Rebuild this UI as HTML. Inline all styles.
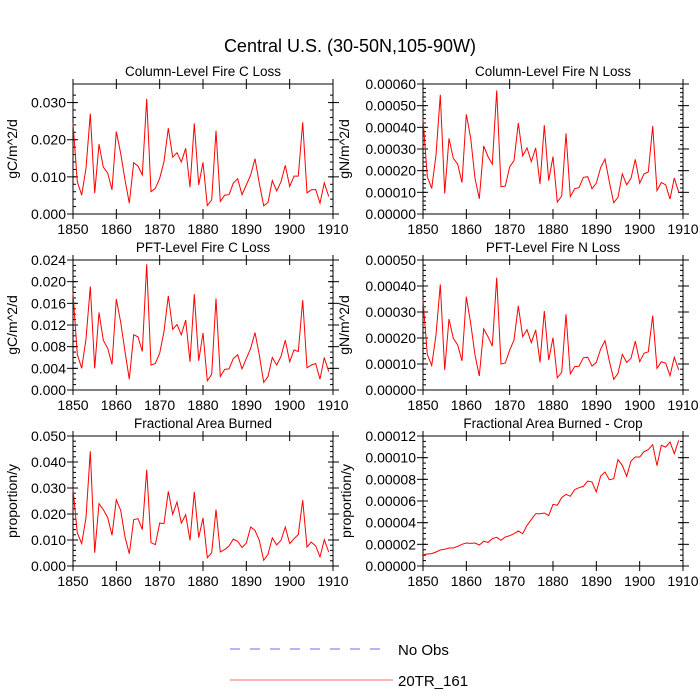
<!DOCTYPE html>
<html><head><meta charset="utf-8"><style>
body{margin:0;background:#fff}
svg{display:block;font-family:"Liberation Sans",sans-serif}
</style></head><body>
<svg id="fig" width="700" height="700" viewBox="0 0 700 700">
<text x="350" y="52" font-size="18" text-anchor="middle">Central U.S. (30-50N,105-90W)</text>
<g id="panels"></g>
<g>
<line x1="230" y1="649" x2="386" y2="649" stroke="#6b6bff" stroke-dasharray="10,10" stroke-width="1"/>
<text x="398" y="655" font-size="15">No Obs</text>
<line x1="230" y1="680" x2="393" y2="680" stroke="#ff6b6b" stroke-width="1"/>
<text x="398" y="686" font-size="15">20TR_161</text>
</g>
</svg>
<script>
const years = Array.from({length:60},(_, i)=>1850+i);
const xTicks = [1850,1860,1870,1880,1890,1900,1910];
const colC = [0.0244,0.0087,0.0051,0.0123,0.027,0.0056,0.0188,0.0126,0.011,0.0065,0.0222,0.0163,0.0092,0.0029,0.0138,0.0129,0.0105,0.031,0.006,0.0069,0.0096,0.0141,0.0231,0.0153,0.0165,0.014,0.0177,0.0072,0.0244,0.0078,0.0139,0.0023,0.0038,0.0224,0.0034,0.0051,0.0052,0.0083,0.0095,0.0052,0.0078,0.0105,0.0149,0.0083,0.0022,0.0031,0.009,0.0062,0.0087,0.0131,0.0074,0.0102,0.0102,0.0247,0.0057,0.0065,0.0066,0.0029,0.0084,0.0047];
const colN = [0.00044,0.000172,0.000118,0.000272,0.00055,0.000095,0.000349,0.000257,0.00023,0.000145,0.00046,0.00035,0.000165,0.00007,0.000314,0.000265,0.00023,0.00057,0.000126,0.000129,0.000218,0.000246,0.00042,0.000268,0.000305,0.000242,0.000305,0.000138,0.00041,0.000154,0.000265,0.000055,0.000083,0.000372,0.00008,0.000117,0.000122,0.000169,0.000172,0.000117,0.000142,0.000215,0.000254,0.000149,0.000052,0.000077,0.000185,0.000135,0.000165,0.000252,0.000142,0.000185,0.000194,0.000406,0.000108,0.000145,0.000135,0.000069,0.000166,0.0001];
const pftC = [0.018,0.0066,0.004,0.0094,0.0191,0.004,0.0143,0.0092,0.0077,0.0047,0.0168,0.0125,0.0071,0.002,0.0102,0.0098,0.0071,0.0232,0.0046,0.0049,0.0068,0.0108,0.0174,0.0112,0.0121,0.0102,0.0129,0.0052,0.0177,0.0054,0.0105,0.0017,0.0029,0.0169,0.0025,0.0038,0.0039,0.0058,0.0065,0.0039,0.0058,0.0077,0.0106,0.0065,0.0014,0.0025,0.006,0.0046,0.0062,0.0092,0.0052,0.0074,0.0071,0.0166,0.0041,0.0046,0.0049,0.002,0.006,0.0034];
const pftN = [0.000346,0.000137,0.000094,0.000212,0.000406,0.000077,0.000273,0.000199,0.000173,0.000112,0.000359,0.000256,0.000135,0.000054,0.000235,0.000205,0.000169,0.000432,0.0001,0.000104,0.000154,0.000192,0.000324,0.000205,0.000232,0.000182,0.000231,0.000106,0.000304,0.000115,0.000201,0.000047,0.000068,0.000291,0.000062,0.00009,0.000091,0.000124,0.000126,0.000092,0.000106,0.000158,0.00019,0.000112,0.000041,0.000064,0.000137,0.000106,0.000122,0.000188,0.000109,0.000141,0.000147,0.000286,0.000083,0.000109,0.000103,0.000055,0.000126,0.000077];
const fab = [0.0297,0.0127,0.0086,0.0186,0.0441,0.0051,0.024,0.0217,0.0186,0.0118,0.0255,0.0214,0.0112,0.0047,0.0178,0.0182,0.014,0.037,0.009,0.0082,0.0165,0.0163,0.0287,0.0199,0.0246,0.0165,0.0197,0.0099,0.0285,0.0109,0.0185,0.0032,0.0051,0.0217,0.0054,0.0063,0.0077,0.0103,0.0095,0.0071,0.0088,0.015,0.0137,0.0099,0.0022,0.0045,0.0108,0.0081,0.0099,0.015,0.0086,0.0105,0.0121,0.0253,0.0073,0.0092,0.0077,0.0035,0.0101,0.0054];
const fabCrop = [1.05e-5,1.11e-5,1.14e-5,1.29e-5,1.48e-5,1.54e-5,1.66e-5,1.66e-5,1.82e-5,2.0e-5,2.12e-5,2.09e-5,2.12e-5,1.94e-5,2.28e-5,2.18e-5,2.52e-5,2.65e-5,2.37e-5,2.68e-5,2.8e-5,2.98e-5,3.23e-5,2.98e-5,3.75e-5,4.28e-5,4.83e-5,4.83e-5,4.89e-5,4.65e-5,5.69e-5,5.6e-5,6.31e-5,6.62e-5,6.43e-5,7.05e-5,7.23e-5,7.35e-5,7.85e-5,7.75e-5,6.83e-5,8.31e-5,8.68e-5,7.97e-5,8.06e-5,9.82e-5,9.29e-5,8.28e-5,9.69e-5,1.006e-4,1.006e-4,1.055e-4,1.074e-4,1.12e-4,9.26e-5,1.114e-4,1.098e-4,1.145e-4,1.037e-4,1.16e-4];
const ticksC = ["0.000","0.010","0.020","0.030"];
const ticksN = ["0.00000","0.00010","0.00020","0.00030","0.00040","0.00050","0.00060"];
const ticksPC = ["0.000","0.004","0.008","0.012","0.016","0.020","0.024"];
const ticksPN = ["0.00000","0.00010","0.00020","0.00030","0.00040","0.00050"];
const ticksF = ["0.000","0.010","0.020","0.030","0.040","0.050"];
const ticksFC = ["0.00000","0.00002","0.00004","0.00006","0.00008","0.00010","0.00012"];

const NS="http://www.w3.org/2000/svg";
function mk(tag,attrs,parent){const e=document.createElementNS(NS,tag);for(const k in attrs)e.setAttribute(k,attrs[k]);parent.appendChild(e);return e;}
const root=document.getElementById('panels');
const panels=[
 {name:'column-fire-c-loss',title:'Column-Level Fire C Loss',ylab:'gC/m^2/d',data:colC,ticks:ticksC,ymax:0.035,minor:5,x0:73,y0:84,labx:12},
 {name:'column-fire-n-loss',title:'Column-Level Fire N Loss',ylab:'gN/m^2/d',data:colN,ticks:ticksN,ymax:0.0006,minor:5,x0:423,y0:84,labx:344},
 {name:'pft-fire-c-loss',title:'PFT-Level Fire C Loss',ylab:'gC/m^2/d',data:pftC,ticks:ticksPC,ymax:0.024,minor:4,x0:73,y0:260,labx:12},
 {name:'pft-fire-n-loss',title:'PFT-Level Fire N Loss',ylab:'gN/m^2/d',data:pftN,ticks:ticksPN,ymax:0.0005,minor:5,x0:423,y0:260,labx:344},
 {name:'fractional-area-burned',title:'Fractional Area Burned',ylab:'proportion/y',data:fab,ticks:ticksF,ymax:0.05,minor:5,x0:73,y0:436,labx:12},
 {name:'fractional-area-burned-crop',title:'Fractional Area Burned - Crop',ylab:'proportion/y',data:fabCrop,ticks:ticksFC,ymax:0.00012,minor:4,x0:423,y0:436,labx:346}
];
const W=260,H=130;
panels.forEach(p=>{
 const g=mk('g',{},root);
 
 
 const xs=y=>p.x0+(y-1850)/60*W;
 const ys=v=>p.y0+H-v/p.ymax*H;
 const r=mk('rect',{x:p.x0,y:p.y0,width:W,height:H,fill:'none',stroke:'#000','stroke-width':1},g);
 
 
 const t=mk('text',{x:p.x0+W/2,y:p.y0-8,'font-size':13.5,'text-anchor':'middle'},g);
 t.textContent=p.title;
 
 
 xTicks.forEach(yr=>{
  const x=xs(yr);
  mk('line',{x1:x,x2:x,y1:p.y0+H-5,y2:p.y0+H+5,stroke:'#000'},g);
  mk('line',{x1:x,x2:x,y1:p.y0-5,y2:p.y0+5,stroke:'#000'},g);
  const lt=mk('text',{x:x,y:p.y0+H+20,'font-size':14,'text-anchor':'middle'},g);
  lt.textContent=yr;
  
  
 });
 p.ticks.forEach((lab,i)=>{
  const v=parseFloat(lab);
  const y=ys(v);
  mk('line',{x1:p.x0-6,x2:p.x0+5,y1:y,y2:y,stroke:'#000'},g);
  mk('line',{x1:p.x0+W-5,x2:p.x0+W+6,y1:y,y2:y,stroke:'#000'},g);
  const lt=mk('text',{x:p.x0-7,y:y+5,'font-size':14,'text-anchor':'end'},g);
  lt.textContent=lab;
  
  
 });
 const d=parseFloat(p.ticks[1])/p.minor;
 for(let v=d;v<p.ymax-d/2;v+=d){
  const y=ys(v);
  mk('line',{x1:p.x0,x2:p.x0+3,y1:y,y2:y,stroke:'#000'},g);
  mk('line',{x1:p.x0+W-3,x2:p.x0+W,y1:y,y2:y,stroke:'#000'},g);
 }
 const yl=mk('text',{x:p.labx,y:p.y0+H/2,'font-size':14,'text-anchor':'middle',transform:`rotate(-90 ${p.labx} ${p.y0+H/2})`,dy:'5'},g);
 yl.textContent=p.ylab;
 
 
 const pts=p.data.map((v,i)=>xs(years[i]).toFixed(1)+','+ys(v).toFixed(1)).join(' ');
 const pl=mk('polyline',{points:pts,fill:'none',stroke:'#ff0000','stroke-width':1},g);
 
 
});
</script>
</body></html>
